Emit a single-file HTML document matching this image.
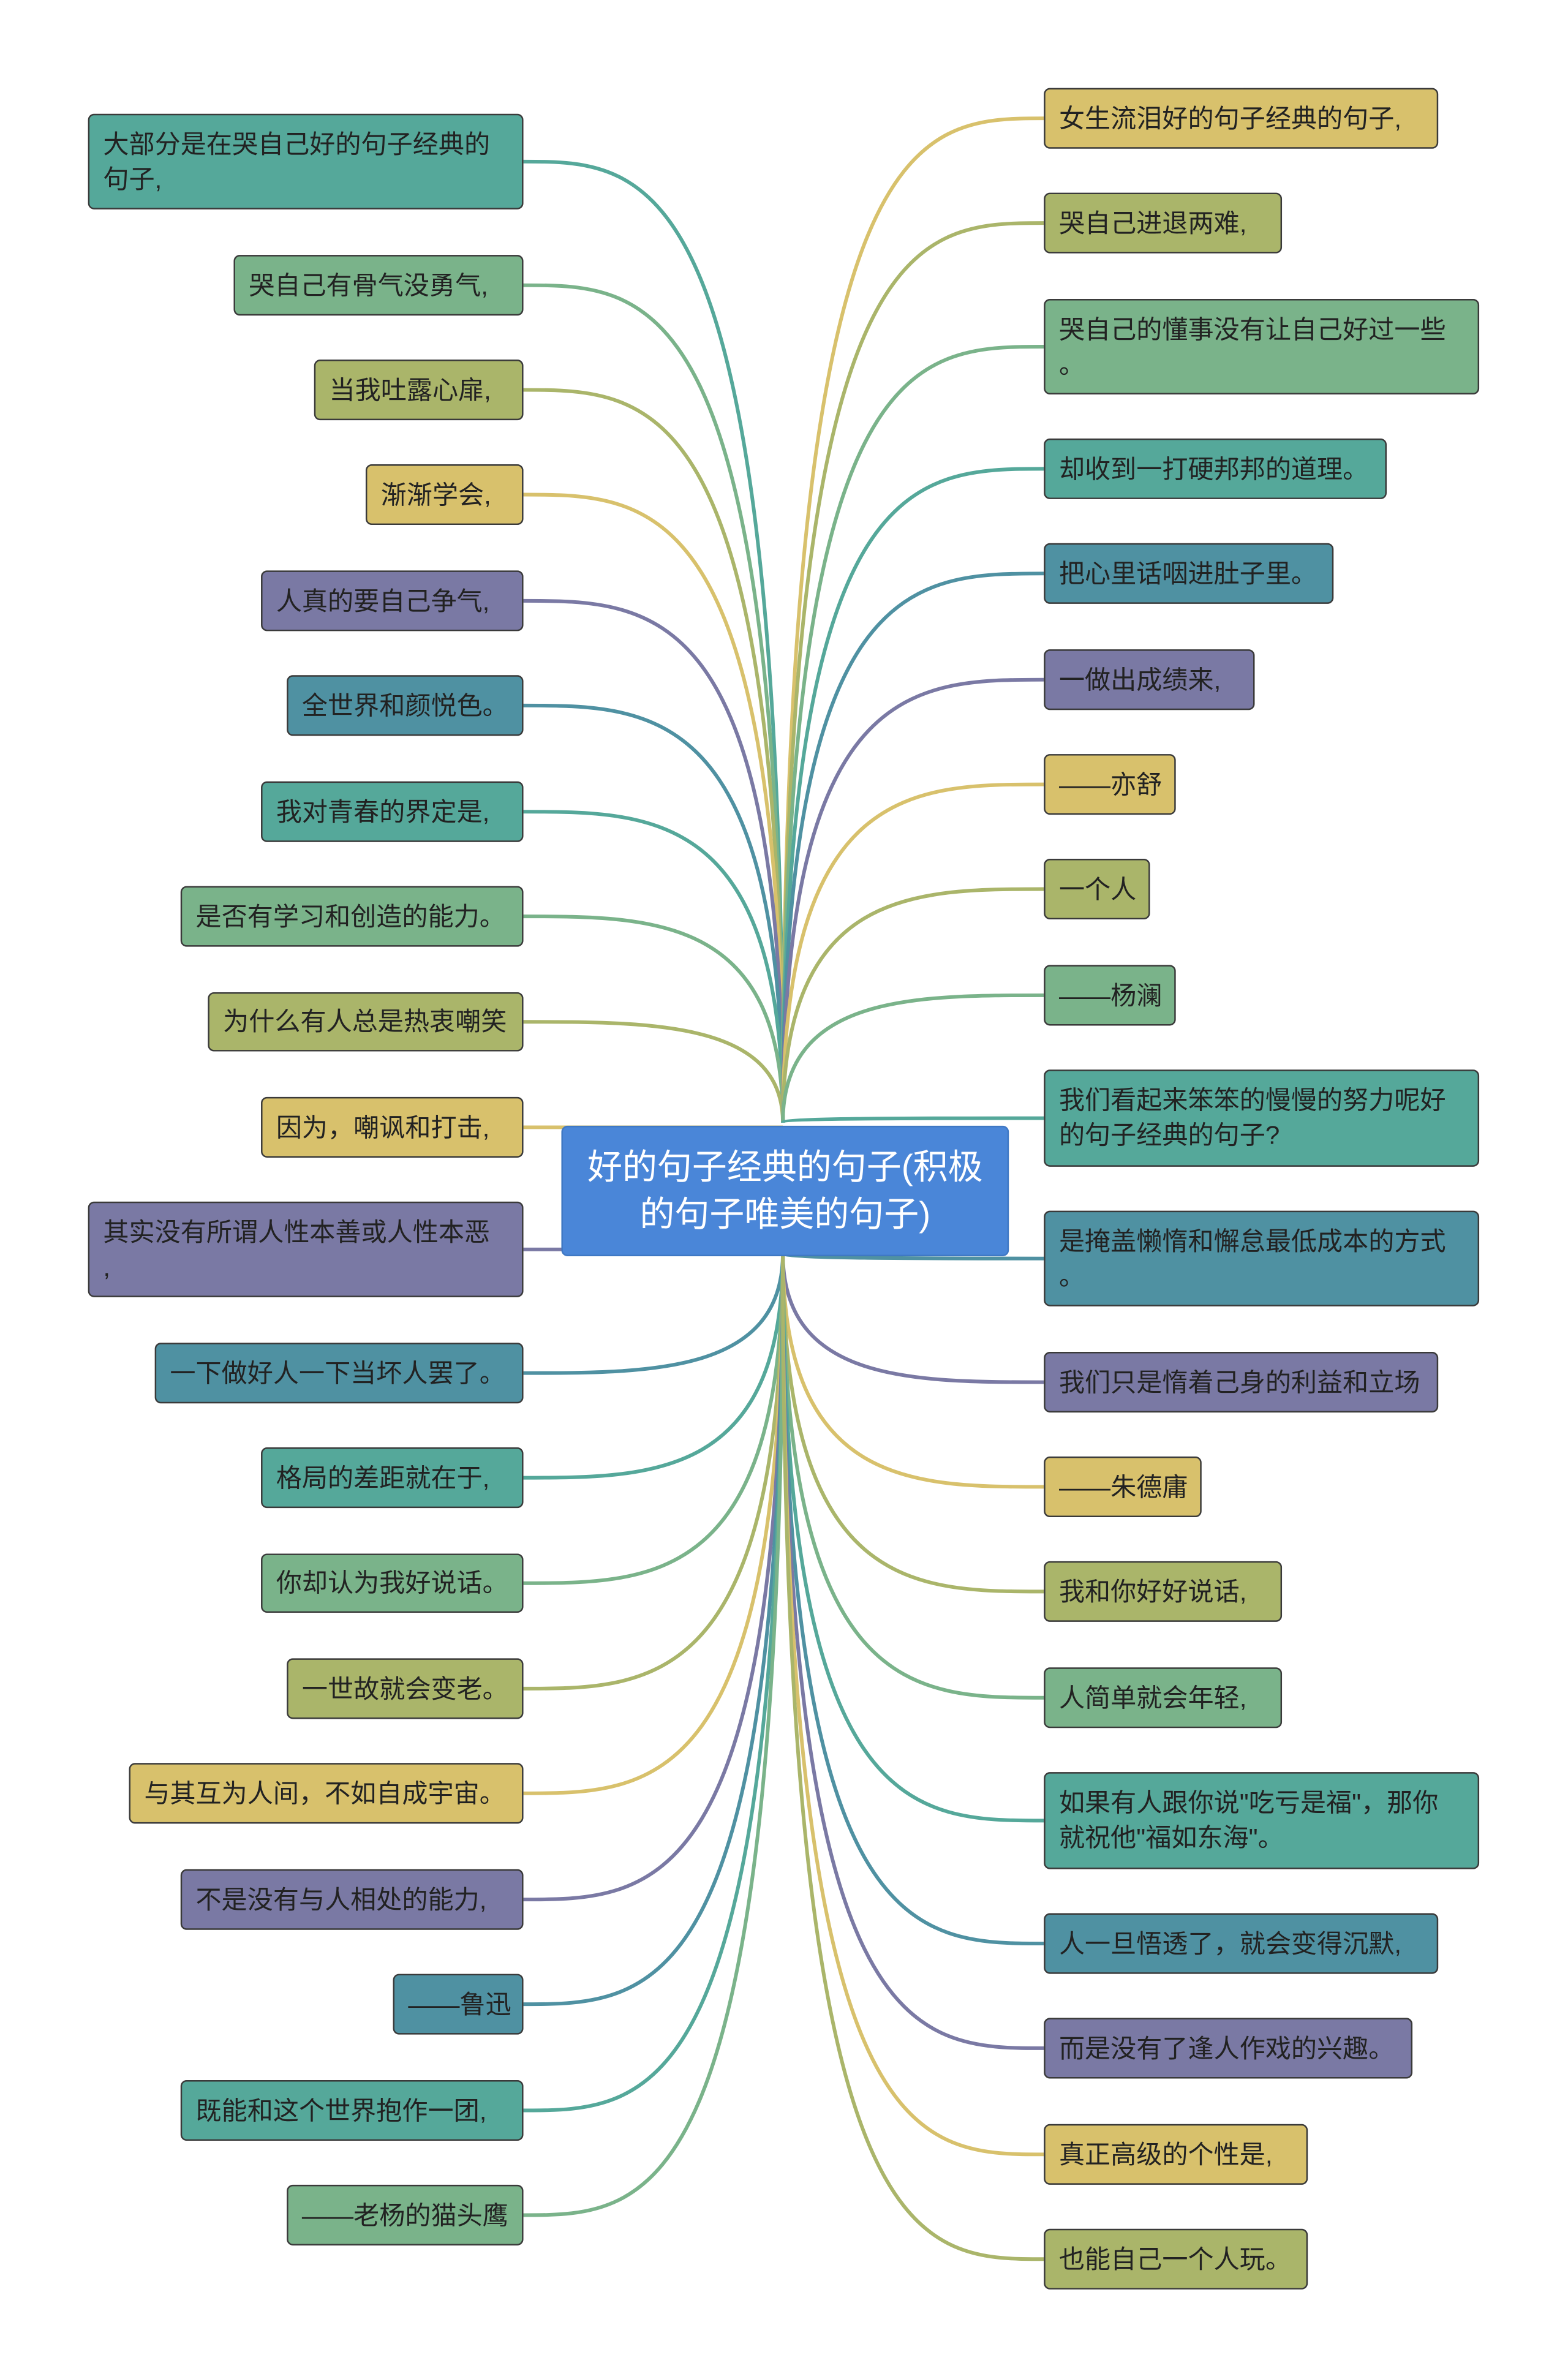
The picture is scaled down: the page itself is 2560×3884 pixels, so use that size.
<!DOCTYPE html>
<html><head><meta charset="utf-8">
<style>
html,body{margin:0;padding:0;background:#fff;}
body{width:2560px;height:3883px;overflow:hidden;position:relative;}
#w{position:absolute;left:0;top:0;width:1034px;height:1568px;transform:scale(2.477);transform-origin:0 0;}
.n{position:absolute;box-sizing:border-box;border:1px solid #3a3a3a;border-radius:4px;
font-family:"Liberation Sans","Noto Sans CJK SC",sans-serif;font-size:17px;color:#222;
padding:0 9px;display:flex;align-items:center;line-height:23px;white-space:nowrap;}
.c{position:absolute;left:370px;top:742px;width:293px;height:84px;background:#4a86d8;border:1px solid #3f78c4;border-radius:4px;
color:#fff;font-family:"Liberation Sans","Noto Sans CJK SC",sans-serif;font-size:23px;line-height:31px;text-align:center;
display:flex;align-items:center;justify-content:center;}
svg{position:absolute;left:0;top:0;}
</style></head><body><div id="w">
<svg id="s" width="1034" height="1568" viewBox="0 0 1034 1568"></svg>
<div class="c">好的句子经典的句子(积极<br>的句子唯美的句子)</div>
</div>
<script>
var C={t:'#55a89a',g:'#7ab38a',o:'#aab56a',y:'#d8c16c',p:'#7a79a4',b:'#4f91a2'};
var L=[
["大部分是在哭自己好的句子经典的<br>句子,",58,75,138,'t'],
["哭自己有骨气没勇气,",154,168,208,'g'],
["当我吐露心扉,",207,237,277,'o'],
["渐渐学会,",241,306,346,'y'],
["人真的要自己争气,",172,376,416,'p'],
["全世界和颜悦色。",189,445,485,'b'],
["我对青春的界定是,",172,515,555,'t'],
["是否有学习和创造的能力。",119,584,624,'g'],
["为什么有人总是热衷嘲笑",137,654,693,'o'],
["因为，嘲讽和打击,",172,723,763,'y'],
["其实没有所谓人性本善或人性本恶<br>,",58,792,855,'p'],
["一下做好人一下当坏人罢了。",102,885,925,'b'],
["格局的差距就在于,",172,954,994,'t'],
["你却认为我好说话。",172,1024,1063,'g'],
["一世故就会变老。",189,1093,1133,'o'],
["与其互为人间，不如自成宇宙。",85,1162,1202,'y'],
["不是没有与人相处的能力,",119,1232,1272,'p'],
["——鲁迅",259,1301,1341,'b'],
["既能和这个世界抱作一团,",119,1371,1411,'t'],
["——老杨的猫头鹰",189,1440,1480,'g']];
var R=[
["女生流泪好的句子经典的句子,",948,58,98,'y'],
["哭自己进退两难,",845,127,167,'o'],
["哭自己的懂事没有让自己好过一些<br>。",975,197,260,'g'],
["却收到一打硬邦邦的道理。",914,289,329,'t'],
["把心里话咽进肚子里。",879,358,398,'b'],
["一做出成绩来,",827,428,468,'p'],
["——亦舒",775,497,537,'y'],
["一个人",758,566,606,'o'],
["——杨澜",775,636,676,'g'],
["我们看起来笨笨的慢慢的努力呢好<br>的句子经典的句子?",975,705,769,'t'],
["是掩盖懒惰和懈怠最低成本的方式<br>。",975,798,861,'b'],
["我们只是惰着己身的利益和立场",948,891,931,'p'],
["——朱德庸",792,960,1000,'y'],
["我和你好好说话,",845,1029,1069,'o'],
["人简单就会年轻,",845,1099,1139,'g'],
["如果有人跟你说\"吃亏是福\"，那你<br>就祝他\"福如东海\"。",975,1168,1232,'t'],
["人一旦悟透了，就会变得沉默,",948,1261,1301,'b'],
["而是没有了逢人作戏的兴趣。",931,1330,1370,'p'],
["真正高级的个性是,",862,1400,1440,'y'],
["也能自己一个人玩。",862,1469,1509,'o']];
var w=document.getElementById('w'),s=document.getElementById('s'),p='';
function node(t,x1,x2,y1,y2,c){var d=document.createElement('div');d.className='n';
d.style.cssText='left:'+x1+'px;top:'+y1+'px;width:'+(x2-x1)+'px;height:'+(y2-y1)+'px;background:'+C[c];
d.innerHTML=t;w.appendChild(d);}
function curve(ex,ey,c){var sx=516,sy=Math.max(740,Math.min(826,ey));
var mx=sx+(ex-sx)*0.5;
p+='<path d="M'+sx+' '+sy+' C'+sx+' '+ey+','+mx+' '+ey+','+ex+' '+ey+'" fill="none" stroke="'+C[c]+'" stroke-width="2.4"/>';}
L.forEach(function(a){curve(345,(a[2]+a[3])/2,a[4]);node(a[0],a[1],345,a[2],a[3],a[4]);});
R.forEach(function(a){curve(688,(a[2]+a[3])/2,a[4]);node(a[0],688,a[1],a[2],a[3],a[4]);});
s.innerHTML=p;
</script>
</body></html>
